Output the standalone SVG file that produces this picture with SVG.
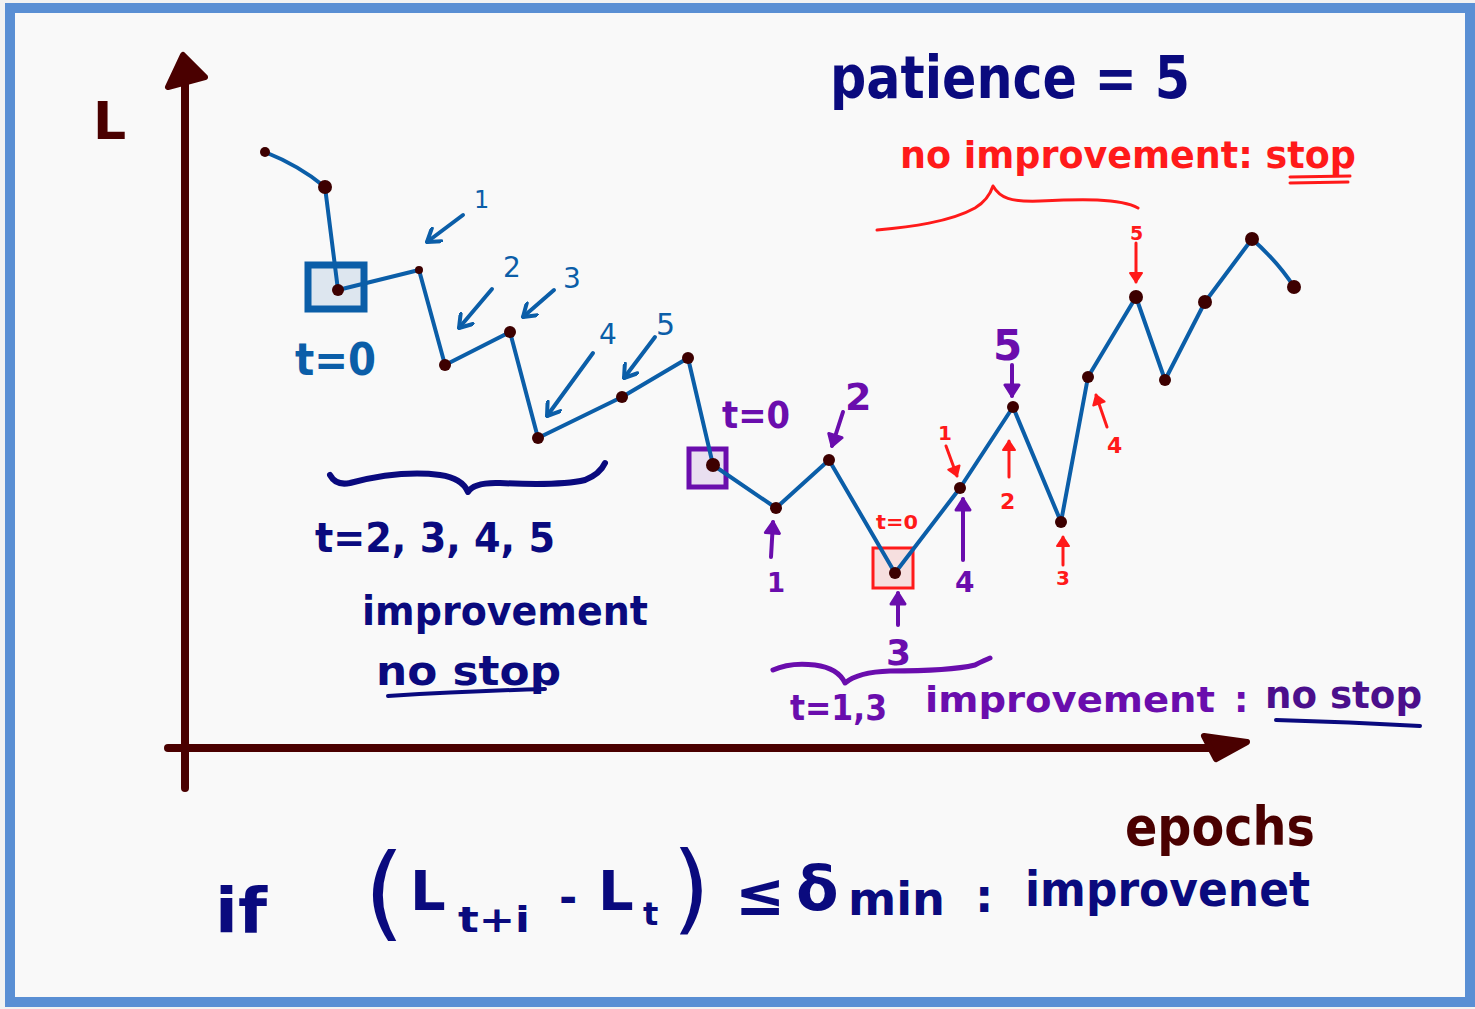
<svg xmlns="http://www.w3.org/2000/svg" width="1475" height="1009" viewBox="0 0 1475 1009">
<style>
.hand{font-family:"DejaVu Sans","Liberation Sans",sans-serif;font-weight:bold}
.navy{fill:#0a0a7e}
.blue{fill:#0b5ea8}
.purple{fill:#6a0dad}
.red{fill:#ff1a1a}
.maroon{fill:#4a0000}
.curve{fill:none;stroke:#0b5ea8;stroke-width:4;stroke-linejoin:round;stroke-linecap:round}
.dot{fill:#3d0000}
.ax{stroke:#4a0000;stroke-width:8;stroke-linecap:round;fill:none}
.barr{stroke:#0b5ea8;stroke-width:4;stroke-linecap:round;fill:none}
.parr{stroke:#6a0dad;stroke-width:4;stroke-linecap:round;fill:none}
.rarr{stroke:#ff1a1a;stroke-width:3;stroke-linecap:round;fill:none}
</style>
<defs>
<marker id="mb" viewBox="-14 -9 16 18" markerWidth="16" markerHeight="18" refX="0" refY="0" orient="auto" markerUnits="userSpaceOnUse">
<path d="M-12,-8 L0,0 L-12,8" fill="none" stroke="#0b5ea8" stroke-width="4" stroke-linecap="round" stroke-linejoin="round"/>
</marker>
<marker id="mp" viewBox="-14 -9 16 18" markerWidth="16" markerHeight="18" refX="0" refY="0" orient="auto" markerUnits="userSpaceOnUse">
<path d="M-11,-7 L0,0 L-11,7 Z" fill="#6a0dad" stroke="#6a0dad" stroke-width="3" stroke-linejoin="round"/>
</marker>
<marker id="mr" viewBox="-12 -8 14 16" markerWidth="14" markerHeight="16" refX="0" refY="0" orient="auto" markerUnits="userSpaceOnUse">
<path d="M-9,-6 L0,0 L-9,6 Z" fill="#ff1a1a" stroke="#ff1a1a" stroke-width="2" stroke-linejoin="round"/>
</marker>
</defs>
<rect x="0" y="0" width="1475" height="1009" fill="#f2f2f2"/>
<rect x="10" y="8" width="1460" height="994" fill="#f9f9f9" stroke="#5a8fd4" stroke-width="10"/>

<g id="axes">
<line class="ax" x1="185" y1="60" x2="185" y2="788"/>
<path d="M183,55 L168,87 L205,77 Z" fill="#4a0000" stroke="#4a0000" stroke-width="6" stroke-linejoin="round"/>
<line class="ax" x1="168" y1="748" x2="1220" y2="748" stroke-width="9"/>
<path d="M1204,736 L1247,742 L1216,759 Z" fill="#4a0000" stroke="#4a0000" stroke-width="6" stroke-linejoin="round"/>
<text class="hand maroon" x="93" y="139" font-size="52">L</text>
<text class="hand maroon" x="1125" y="845" font-size="54" textLength="190" lengthAdjust="spacingAndGlyphs">epochs</text>
</g>

<g id="boxes">
<rect x="308" y="265" width="56" height="44" fill="#dde6ef" stroke="#0b5ea8" stroke-width="7"/>
<rect x="689" y="449" width="37" height="38" fill="#e9dff0" stroke="#6a0dad" stroke-width="5"/>
<rect x="873" y="548" width="40" height="40" fill="#f6dfdf" stroke="#ff1a1a" stroke-width="3"/>
</g>

<g id="connectors">
<path class="curve" d="M265,152 Q300,166 325,187 L338,290 L419,270 L445,365 L510,332 L538,438 L622,397 L688,358 L713,465 L776,508 L829,460 L895,573 L960,488 L1013,407 L1061,522 L1088,377 L1136,297 L1165,380 L1205,302 L1252,239 Q1278,262 1294,287"/>
<line class="barr" x1="463" y1="215" x2="427" y2="242" marker-end="url(#mb)"/>
<line class="barr" x1="492" y1="289" x2="459" y2="328" marker-end="url(#mb)"/>
<line class="barr" x1="554" y1="290" x2="523" y2="317" marker-end="url(#mb)"/>
<line class="barr" x1="593" y1="353" x2="547" y2="416" marker-end="url(#mb)"/>
<line class="barr" x1="655" y1="337" x2="624" y2="378" marker-end="url(#mb)"/>
<line class="parr" x1="843" y1="412" x2="832" y2="446" marker-end="url(#mp)"/>
<line class="parr" x1="771" y1="557" x2="773" y2="522" marker-end="url(#mp)"/>
<line class="parr" x1="1012" y1="365" x2="1012" y2="396" marker-end="url(#mp)"/>
<line class="parr" x1="963" y1="560" x2="963" y2="499" marker-end="url(#mp)" stroke-width="3"/>
<line class="parr" x1="898" y1="625" x2="898" y2="593" marker-end="url(#mp)"/>
<line class="rarr" x1="946" y1="446" x2="957" y2="476" marker-end="url(#mr)"/>
<line class="rarr" x1="1009" y1="477" x2="1009" y2="441" marker-end="url(#mr)"/>
<line class="rarr" x1="1063" y1="565" x2="1063" y2="537" marker-end="url(#mr)"/>
<line class="rarr" x1="1107" y1="427" x2="1096" y2="395" marker-end="url(#mr)"/>
<line class="rarr" x1="1136" y1="243" x2="1136" y2="282" marker-end="url(#mr)"/>
</g>

<g id="points">
<circle class="dot" cx="265" cy="152" r="5"/>
<circle class="dot" cx="325" cy="187" r="7"/>
<circle class="dot" cx="338" cy="290" r="6"/>
<circle class="dot" cx="419" cy="270" r="4"/>
<circle class="dot" cx="445" cy="365" r="6"/>
<circle class="dot" cx="510" cy="332" r="6"/>
<circle class="dot" cx="538" cy="438" r="6"/>
<circle class="dot" cx="622" cy="397" r="6"/>
<circle class="dot" cx="688" cy="358" r="6"/>
<circle class="dot" cx="713" cy="465" r="7"/>
<circle class="dot" cx="776" cy="508" r="6"/>
<circle class="dot" cx="829" cy="460" r="6"/>
<circle class="dot" cx="895" cy="573" r="6"/>
<circle class="dot" cx="960" cy="488" r="6"/>
<circle class="dot" cx="1013" cy="407" r="6"/>
<circle class="dot" cx="1061" cy="522" r="6"/>
<circle class="dot" cx="1088" cy="377" r="6"/>
<circle class="dot" cx="1136" cy="297" r="7"/>
<circle class="dot" cx="1165" cy="380" r="6"/>
<circle class="dot" cx="1205" cy="302" r="7"/>
<circle class="dot" cx="1252" cy="239" r="7"/>
<circle class="dot" cx="1294" cy="287" r="7"/>
</g>

<g id="blue-labels">
<text class="hand blue" x="295" y="375" font-size="44" textLength="81" lengthAdjust="spacingAndGlyphs">t=0</text>
<text class="blue" font-family="DejaVu Sans, sans-serif" x="474" y="208" font-size="24">1</text>
<text class="blue" font-family="DejaVu Sans, sans-serif" x="503" y="277" font-size="28">2</text>
<text class="blue" font-family="DejaVu Sans, sans-serif" x="563" y="288" font-size="28">3</text>
<text class="blue" font-family="DejaVu Sans, sans-serif" x="599" y="344" font-size="28">4</text>
<text class="blue" font-family="DejaVu Sans, sans-serif" x="656" y="335" font-size="30">5</text>
</g>

<g id="navy-notes">
<path d="M330,475 Q336,486 350,483 Q400,470 440,475 Q462,478 468,492 Q474,482 500,483 Q560,486 585,480 Q600,474 605,463" fill="none" stroke="#0a0a7e" stroke-width="6" stroke-linecap="round" stroke-linejoin="round"/>
<text class="hand navy" x="315" y="552" font-size="40" textLength="240" lengthAdjust="spacingAndGlyphs">t=2, 3, 4, 5</text>
<text class="hand navy" x="362" y="625" font-size="40" textLength="286" lengthAdjust="spacingAndGlyphs">improvement</text>
<text class="hand navy" x="376" y="685" font-size="40" textLength="185" lengthAdjust="spacingAndGlyphs">no stop</text>
<path d="M388,696 Q470,691 545,689" fill="none" stroke="#0a0a7e" stroke-width="4" stroke-linecap="round"/>
<text class="hand navy" x="830" y="98" font-size="58" textLength="360" lengthAdjust="spacingAndGlyphs">patience = 5</text>
</g>

<g id="purple-labels">
<text class="hand purple" x="722" y="428" font-size="38" textLength="68" lengthAdjust="spacingAndGlyphs">t=0</text>
<text class="hand purple" x="845" y="410" font-size="38">2</text>
<text class="hand purple" x="767" y="592" font-size="26">1</text>
<text class="hand purple" x="993" y="360" font-size="42">5</text>
<text class="hand purple" x="955" y="592" font-size="28">4</text>
<text class="hand purple" x="886" y="665" font-size="36">3</text>
<path d="M773,670 Q790,662 815,665 Q838,668 845,683 Q858,672 890,671 Q950,671 975,665 Q985,660 990,658" fill="none" stroke="#6a0dad" stroke-width="5" stroke-linecap="round" stroke-linejoin="round"/>
<text class="hand purple" x="790" y="720" font-size="36" textLength="97" lengthAdjust="spacingAndGlyphs">t=1,3</text>
<text class="hand purple" x="925" y="712" font-size="36" textLength="290" lengthAdjust="spacingAndGlyphs">improvement</text>
<text class="hand purple" x="1234" y="712" font-size="36">:</text>
<text class="hand" fill="#4b0f8c" x="1265" y="708" font-size="38" textLength="157" lengthAdjust="spacingAndGlyphs">no stop</text>
<path d="M1276,720 Q1350,722 1420,726" fill="none" stroke="#0a0a7e" stroke-width="4" stroke-linecap="round"/>
</g>

<g id="red-labels">
<text class="hand red" x="900" y="168" font-size="38" textLength="456" lengthAdjust="spacingAndGlyphs">no improvement: stop</text>
<path d="M1290,177 L1350,176 M1290,183 L1348,182" fill="none" stroke="#ff1a1a" stroke-width="3" stroke-linecap="round"/>
<path d="M877,230 C910,227 950,222 975,208 C985,202 990,195 993,186 C1000,198 1010,202 1040,201 C1080,199 1120,198 1138,208" fill="none" stroke="#ff1a1a" stroke-width="3" stroke-linecap="round" stroke-linejoin="round"/>
<text class="hand red" x="876" y="529" font-size="20" textLength="42" lengthAdjust="spacingAndGlyphs">t=0</text>
<text class="hand red" x="1130" y="240" font-size="19">5</text>
<text class="hand red" x="938" y="440" font-size="20">1</text>
<text class="hand red" x="1000" y="509" font-size="22">2</text>
<text class="hand red" x="1056" y="585" font-size="20">3</text>
<text class="hand red" x="1107" y="453" font-size="22">4</text>
</g>

<g id="formula">
<text class="hand navy" x="215" y="932" font-size="62" textLength="52" lengthAdjust="spacingAndGlyphs">if</text>
<text class="navy" font-family="DejaVu Sans, sans-serif" x="364" y="928" font-size="104">(</text>
<text class="hand navy" x="410" y="910" font-size="56">L</text>
<text class="hand navy" x="458" y="932" font-size="36" textLength="72" lengthAdjust="spacingAndGlyphs">t+i</text>
<text class="hand navy" x="559" y="913" font-size="44">-</text>
<text class="hand navy" x="598" y="910" font-size="56">L</text>
<text class="hand navy" x="643" y="925" font-size="32">t</text>
<text class="navy" font-family="DejaVu Sans, sans-serif" x="672" y="922" font-size="98">)</text>
<text class="hand navy" x="735" y="915" font-size="60">≤</text>
<text class="hand navy" x="796" y="910" font-size="62">δ</text>
<text class="hand navy" x="848" y="915" font-size="46" textLength="97" lengthAdjust="spacingAndGlyphs">min</text>
<text class="hand navy" x="975" y="912" font-size="46">:</text>
<text class="hand navy" x="1025" y="906" font-size="48" textLength="285" lengthAdjust="spacingAndGlyphs">improvenet</text>
</g>
</svg>
